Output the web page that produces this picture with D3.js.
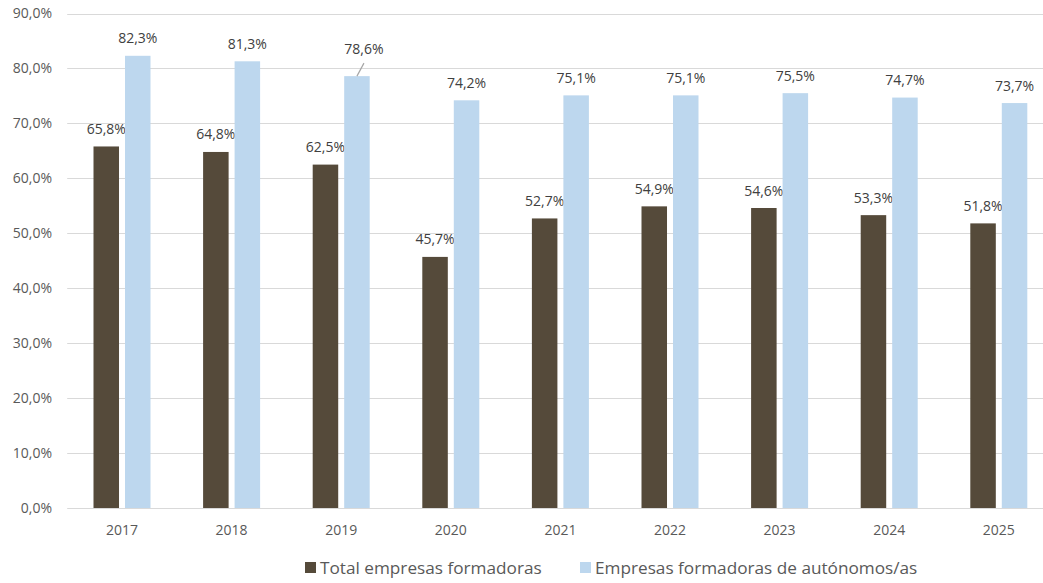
<!DOCTYPE html>
<html><head><meta charset="utf-8">
<script src="https://cdn.jsdelivr.net/npm/d3@7"></script>
<style>
html,body{margin:0;padding:0;background:#fff;}
svg{display:block;font-family:"Open Sans",sans-serif;}
</style></head>
<body>
<svg id="chart" width="1043" height="583"></svg>
<script>
const years = ["2017","2018","2019","2020","2021","2022","2023","2024","2025"];
const seriesNames = ["Total empresas formadoras","Empresas formadoras de autónomos/as"];
const totalEmpresas = [65.8,64.8,62.5,45.7,52.7,54.9,54.6,53.3,51.8];
const autonomos = [82.3,81.3,78.6,74.2,75.1,75.1,75.5,74.7,73.7];
const yTicks = [0,10,20,30,40,50,60,70,80,90];
const colors = ["#554a3a","#bdd7ee"];

const svg = d3.select("#chart");
const left = 67.2, step = 109.6;
const x = d3.scaleBand().domain(years).range([left, left + step*years.length]).padding(0);
const xs = d3.scaleBand().domain([0,1]).range([-28.5,28.5]).paddingInner(0.19);
const y = d3.scaleLinear().domain([0,90]).range([508,13.5]);
const fmt = v => d3.format(".1f")(v).replace(".", ",");

// gridlines
svg.append("g").selectAll("line").data(yTicks).join("line")
  .attr("x1", left).attr("x2", 1043)
  .attr("y1", d => Math.round(y(d))+0.5).attr("y2", d => Math.round(y(d))+0.5)
  .attr("stroke", "#d9d9d9").attr("stroke-width", 1);

// y tick labels
svg.append("g").selectAll("text").data(yTicks).join("text")
  .attr("x", 52).attr("y", d => y(d)).attr("dy", "0.35em")
  .attr("text-anchor", "end").attr("font-size", 14).attr("fill", "#595959")
  .text(d => fmt(d) + "%");

// x labels
svg.append("g").selectAll("text").data(years).join("text")
  .attr("x", d => x(d) + x.bandwidth()/2).attr("y", 535)
  .attr("text-anchor", "middle").attr("font-size", 14).attr("fill", "#595959")
  .text(d => d);

const series = [totalEmpresas, autonomos];
// label offsets (special case for 2019 autonomos label with leader line)
const labelShift = {"1-2": {dx: 7, dy: -10}};

series.forEach((vals, si) => {
  const g = svg.append("g");
  g.selectAll("rect").data(vals).join("rect")
    .attr("x", (d,i) => x(years[i]) + x.bandwidth()/2 + xs(si))
    .attr("width", xs.bandwidth())
    .attr("y", d => y(d)).attr("height", d => y(0) - y(d))
    .attr("fill", colors[si]);
  g.selectAll("text").data(vals).join("text")
    .attr("x", (d,i) => {
      const s = labelShift[si+"-"+i];
      return x(years[i]) + x.bandwidth()/2 + xs(si) + xs.bandwidth()/2 + (s ? s.dx : 0);
    })
    .attr("y", (d,i) => {
      const s = labelShift[si+"-"+i];
      return y(d) - 12.5 + (s ? s.dy : 0);
    })
    .attr("text-anchor", "middle").attr("font-size", 14).attr("fill", "#404040")
    .text(d => fmt(d) + "%");
  // leader lines
  vals.forEach((d,i) => {
    const s = labelShift[si+"-"+i];
    if (!s) return;
    const cx = x(years[i]) + x.bandwidth()/2 + xs(si) + xs.bandwidth()/2;
    g.append("line")
      .attr("x1", cx).attr("y1", y(d))
      .attr("x2", cx + s.dx).attr("y2", y(d) - 13)
      .attr("stroke", "#a6a6a6").attr("stroke-width", 1.2);
  });
});

// legend
const legendItems = [{x: 305, tx: 320}, {x: 580, tx: 595}];
const lg = svg.append("g");
seriesNames.forEach((name, i) => {
  lg.append("rect").attr("x", legendItems[i].x).attr("y", 562).attr("width", 11).attr("height", 11)
    .attr("fill", colors[i]);
  lg.append("text").attr("x", legendItems[i].tx).attr("y", 568).attr("dy", "0.35em")
    .attr("font-size", 17.2).attr("fill", "#595959").text(name);
});
</script>
</body></html>
